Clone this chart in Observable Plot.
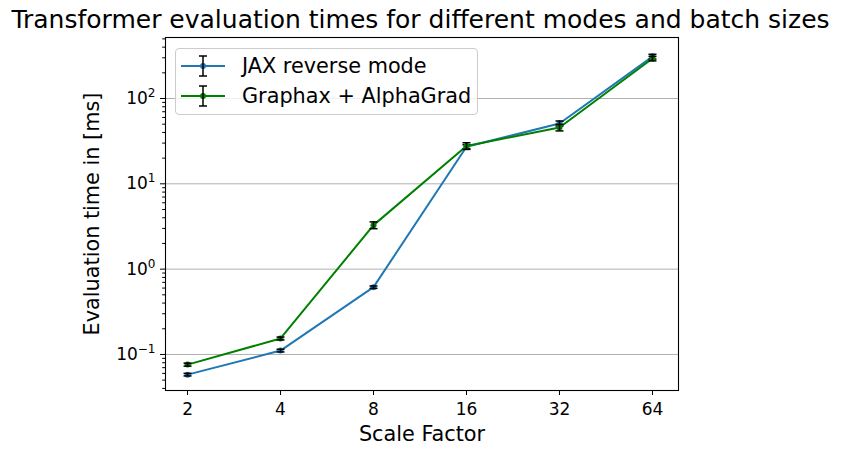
<!DOCTYPE html>
<html>
<head>
<meta charset="utf-8">
<script src="https://cdn.jsdelivr.net/npm/d3@7"></script>
<script src="https://cdn.jsdelivr.net/npm/@observablehq/plot@0.6"></script>
<style>
  body { margin: 0; background: #fff; font-family: "DejaVu Sans", sans-serif; }
  #wrap { position: relative; width: 841px; height: 455px; }
  #title { position: absolute; left: 0; top: 4px; width: 841px; text-align: center; font-size: 25px; line-height: 32px; color: #000; white-space: nowrap; }
  #legend { position: absolute; left: 175px; top: 48px; width: 303px; height: 67px; box-sizing: border-box;
            border: 1px solid #cccccc; border-radius: 4px; background: rgba(255,255,255,0.8); }
  .row { position: absolute; left: 5px; height: 30px; display: flex; align-items: center; font-size: 20.8px; color: #000; }
  .row svg { margin-right: 15px; }
</style>
</head>
<body>
<div id="wrap">
  <div id="chart"></div>
  <div id="title">Transformer evaluation times for different modes and batch sizes</div>
  <div id="legend"></div>
</div>
<script>
const scales = [2, 4, 8, 16, 32, 64];
const jaxMean = [0.058, 0.111, 0.615, 27.2, 51, 310];
const jaxStd = [0.002, 0.004, 0.02, 1.5, 3.5, 20];
const graphaxMean = [0.076, 0.154, 3.28, 27.8, 45.7, 294];
const graphaxStd = [0.003, 0.006, 0.3, 2.5, 4, 18];
const seriesNames = ["JAX reverse mode", "Graphax + AlphaGrad"];
const seriesColors = ["#1f77b4", "green"];
const xTicks = [2, 4, 8, 16, 32, 64];
const yTicks = [0.1, 1, 10, 100];
const yTickExponents = ["\u22121", "0", "1", "2"];
const xLabel = "Scale Factor";
const yLabel = "Evaluation time in [ms]";

const rows = [];
[jaxMean, graphaxMean].forEach((means, si) => {
  const stds = si === 0 ? jaxStd : graphaxStd;
  scales.forEach((s, i) => rows.push({series: seriesNames[si], x: s, y: means[i], lo: means[i] - stds[i], hi: means[i] + stds[i]}));
});

const yDomain = [0.0378, 519];
const yMinor = [];
for (let d = -2; d <= 2; d++) for (let k = 2; k <= 9; k++) {
  const v = k * Math.pow(10, d);
  if (v >= yDomain[0] && v <= yDomain[1]) yMinor.push(v);
}

const cap = { draw(ctx, size) { const w = Math.sqrt(size / Math.PI); ctx.moveTo(-w, 0); ctx.lineTo(w, 0); } };

const marks = [
  Plot.gridY(yTicks, {stroke: "#b0b0b0", strokeOpacity: 1, strokeWidth: 1}),
  Plot.axisX({ticks: xTicks, tickFormat: d => String(d), tickSize: 5, tickPadding: 7, fontSize: 17, label: null}),
  Plot.axisY({ticks: yTicks, tickFormat: d => "10^" + yTickExponents[yTicks.indexOf(d)], tickSize: 5, tickPadding: 5, fontSize: 17, label: null}),
  Plot.axisY({ticks: yMinor, tickSize: 2.8, text: null, label: null}),
];
seriesNames.forEach((name, si) => {
  const data = rows.filter(r => r.series === name);
  marks.push(
    Plot.line(data, {x: "x", y: "y", stroke: seriesColors[si], strokeWidth: 2}),
    Plot.dot(data, {x: "x", y: "y", fill: seriesColors[si], r: 3}),
    Plot.ruleX(data, {x: "x", y1: "lo", y2: "hi", stroke: "#000", strokeWidth: 1.5}),
    Plot.dot(data, {x: "x", y: "lo", symbol: cap, r: 4, stroke: "#000", strokeWidth: 1.5, fill: "none"}),
    Plot.dot(data, {x: "x", y: "hi", symbol: cap, r: 4, stroke: "#000", strokeWidth: 1.5, fill: "none"})
  );
});
marks.push(
  Plot.frame({stroke: "#000", strokeWidth: 1.1}),
  Plot.text([xLabel], {text: d => d, frameAnchor: "bottom", dy: 50, fontSize: 20.8, fill: "#000"}),
  Plot.text([yLabel], {text: d => d, frameAnchor: "left", textAnchor: "middle", rotate: -90, dx: -73, fontSize: 20.8, fill: "#000"})
);

const chart = Plot.plot({
  width: 841, height: 455,
  marginLeft: 165, marginRight: 163, marginTop: 37, marginBottom: 65,
  style: {fontFamily: "DejaVu Sans, sans-serif", color: "#000", background: "#fff", overflow: "visible"},
  x: {type: "log", base: 2, domain: [1.697, 77.7]},
  y: {type: "log", domain: yDomain},
  marks
});
document.getElementById("chart").appendChild(chart);

// render y tick labels as 10 with a raised exponent
d3.select(chart).selectAll('g[aria-label="y-axis tick label"] text').each(function () {
  const t = d3.select(this);
  const s = t.text();
  if (!s.startsWith("10^")) return;
  const exp = s.slice(3);
  t.text(null);
  t.append("tspan").text("10");
  t.append("tspan").attr("dy", "-7").attr("font-size", "12px").text(exp);
});

// legend
const legend = document.getElementById("legend");
seriesNames.forEach((name, si) => {
  const row = document.createElement("div");
  row.className = "row";
  row.style.top = (si === 0 ? 2 : 32) + "px";
  row.innerHTML = `<svg width="46" height="30" viewBox="0 0 46 30">
    <line x1="0" y1="15" x2="44" y2="15" stroke="${seriesColors[si]}" stroke-width="2"/>
    <circle cx="22" cy="15" r="3" fill="${seriesColors[si]}"/>
    <line x1="22" y1="5" x2="22" y2="25" stroke="#000" stroke-width="1.5"/>
    <line x1="18" y1="5" x2="26" y2="5" stroke="#000" stroke-width="1.5"/>
    <line x1="18" y1="25" x2="26" y2="25" stroke="#000" stroke-width="1.5"/>
  </svg><span></span>`;
  row.querySelector("span").textContent = name;
  legend.appendChild(row);
});
</script>
</body>
</html>
